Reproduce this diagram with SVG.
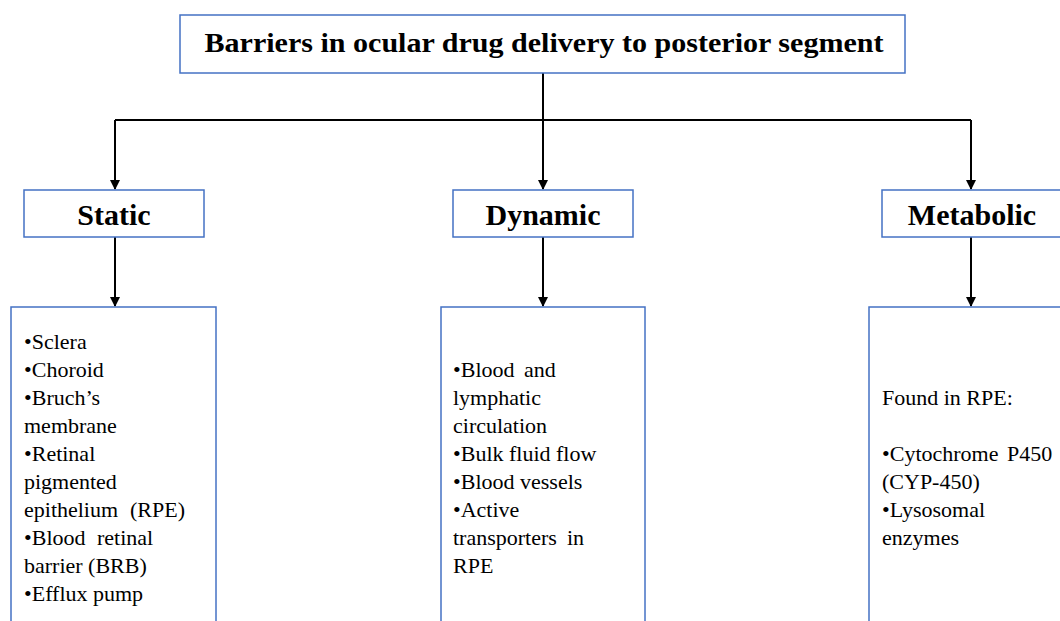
<svg xmlns="http://www.w3.org/2000/svg" width="1060" height="621" viewBox="0 0 1060 621">
<style>
.box{fill:#fff;stroke:#4472C4;stroke-width:1.5}
.hdr{font-family:'Liberation Serif','Times New Roman',serif;font-weight:bold;font-size:30px;fill:#000;text-anchor:middle}
.ttl{font-size:28px}
.body{font-family:'Liberation Serif','Times New Roman',serif;font-size:22px;fill:#000}
.conn{stroke:#000;stroke-width:2;fill:none}
</style>
<defs>
<marker id="ah" markerWidth="10" markerHeight="10" refX="9" refY="5" orient="auto" markerUnits="userSpaceOnUse">
<path d="M0,0 L10,5 L0,10 Z" fill="#000"/>
</marker>
</defs>
<rect width="1060" height="621" fill="#fff"/>
<g id="connectors">
<path class="conn" d="M543,73 V120"/>
<path class="conn" d="M115,120 H971"/>
<path class="conn" d="M115,120 V189" marker-end="url(#ah)"/>
<path class="conn" d="M543,120 V189" marker-end="url(#ah)"/>
<path class="conn" d="M971,120 V189" marker-end="url(#ah)"/>
<path class="conn" d="M115,237 V306" marker-end="url(#ah)"/>
<path class="conn" d="M543,237 V306" marker-end="url(#ah)"/>
<path class="conn" d="M971,237 V306" marker-end="url(#ah)"/>
</g>
<g id="title">
<rect class="box" x="180" y="15" width="725" height="58"/>
<text class="hdr ttl" x="544" y="52" textLength="679" lengthAdjust="spacingAndGlyphs">Barriers in ocular drug delivery to posterior segment</text>
</g>
<g id="static">
<rect class="box" x="24" y="190" width="180" height="47"/>
<text class="hdr" x="114" y="225">Static</text>
</g>
<g id="dynamic">
<rect class="box" x="453" y="190" width="180" height="47"/>
<text class="hdr" x="543" y="225">Dynamic</text>
</g>
<g id="metabolic">
<rect class="box" x="882" y="190" width="180" height="47"/>
<text class="hdr" x="972" y="225">Metabolic</text>
</g>
<g id="static-list">
<rect class="box" x="11" y="307" width="205" height="320"/>
<text class="body">
<tspan x="24" y="349">•Sclera</tspan>
<tspan x="24" y="377">•Choroid</tspan>
<tspan x="24" y="405">•Bruch’s</tspan>
<tspan x="24" y="433">membrane</tspan>
<tspan x="24" y="461">•Retinal</tspan>
<tspan x="24" y="489">pigmented</tspan>
<tspan x="24" y="517">epithelium</tspan><tspan x="130" y="517">(RPE)</tspan>
<tspan x="24" y="545">•Blood</tspan><tspan x="97" y="545">retinal</tspan>
<tspan x="24" y="573">barrier (BRB)</tspan>
<tspan x="24" y="601">•Efflux pump</tspan>
</text>
</g>
<g id="dynamic-list">
<rect class="box" x="441" y="307" width="204" height="320"/>
<text class="body">
<tspan x="453" y="377">•Blood</tspan><tspan x="524" y="377">and</tspan>
<tspan x="453" y="405">lymphatic</tspan>
<tspan x="453" y="433">circulation</tspan>
<tspan x="453" y="461">•Bulk fluid flow</tspan>
<tspan x="453" y="489">•Blood vessels</tspan>
<tspan x="453" y="517">•Active</tspan>
<tspan x="453" y="545">transporters</tspan><tspan x="567" y="545">in</tspan>
<tspan x="453" y="573">RPE</tspan>
</text>
</g>
<g id="metabolic-list">
<rect class="box" x="869" y="307" width="200" height="320"/>
<text class="body">
<tspan x="882" y="405">Found in RPE:</tspan>
<tspan x="882" y="461">•Cytochrome</tspan><tspan x="1007" y="461">P450</tspan>
<tspan x="882" y="489">(CYP-450)</tspan>
<tspan x="882" y="517">•Lysosomal</tspan>
<tspan x="882" y="545">enzymes</tspan>
</text>
</g>
</svg>
